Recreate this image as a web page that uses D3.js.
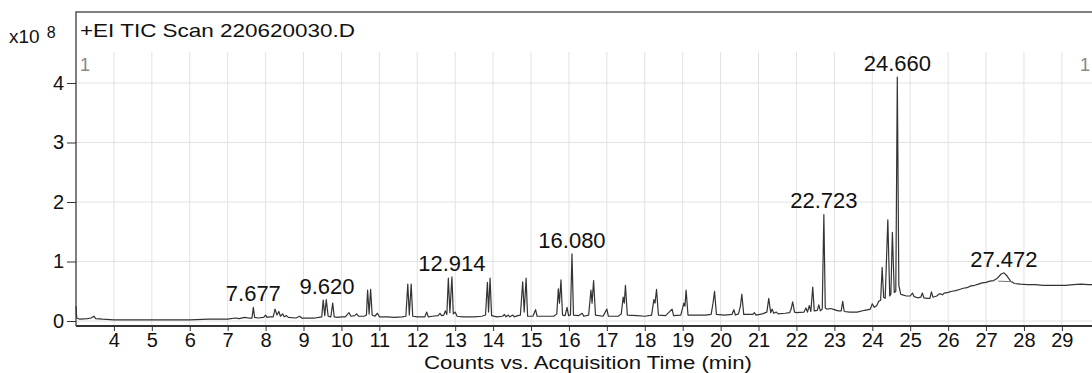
<!DOCTYPE html>
<html>
<head>
<meta charset="utf-8">
<script src="https://cdn.jsdelivr.net/npm/d3@7"></script>
<style>
  body { margin: 0; background: #fff; }
  svg { display: block; font-family: "Liberation Sans", Arial, sans-serif; }
</style>
</head>
<body>
<svg id="chart" width="1092" height="373"></svg>
<script>
// TIC trace: [time (min), counts x10^8]
const trace = [
  [3.0, 0.25], [3.02, 0.05], [3.1, 0.03], [3.3, 0.04], [3.4, 0.05], [3.47, 0.08], [3.52, 0.04],
  [3.7, 0.03], [4.0, 0.02], [4.5, 0.02], [5.0, 0.02], [5.5, 0.02], [6.0, 0.02], [6.5, 0.03],
  [7.0, 0.03], [7.2, 0.05], [7.3, 0.04], [7.45, 0.06], [7.55, 0.05], [7.64, 0.05], [7.677, 0.23],
  [7.71, 0.06], [7.8, 0.05], [7.95, 0.06], [8.0, 0.1], [8.04, 0.06], [8.1, 0.07], [8.2, 0.07],
  [8.25, 0.2], [8.3, 0.1], [8.35, 0.16], [8.39, 0.08], [8.45, 0.12], [8.49, 0.07], [8.55, 0.09],
  [8.6, 0.06], [8.8, 0.05], [8.9, 0.08], [8.95, 0.05], [9.1, 0.05], [9.3, 0.05], [9.4, 0.06],
  [9.48, 0.07], [9.52, 0.35], [9.56, 0.09], [9.6, 0.36], [9.65, 0.08], [9.72, 0.07], [9.77, 0.3],
  [9.81, 0.07], [9.9, 0.06], [10.0, 0.07], [10.1, 0.07], [10.2, 0.14], [10.25, 0.08], [10.35, 0.09],
  [10.4, 0.12], [10.45, 0.08], [10.6, 0.08], [10.66, 0.1], [10.69, 0.52], [10.73, 0.12], [10.77, 0.53],
  [10.81, 0.1], [10.88, 0.08], [10.95, 0.13], [11.0, 0.07], [11.2, 0.07], [11.4, 0.06], [11.6, 0.07],
  [11.7, 0.08], [11.75, 0.62], [11.79, 0.1], [11.84, 0.62], [11.88, 0.08], [12.0, 0.07], [12.2, 0.07],
  [12.25, 0.15], [12.29, 0.07], [12.4, 0.08], [12.55, 0.09], [12.6, 0.13], [12.64, 0.09], [12.7, 0.1],
  [12.74, 0.17], [12.78, 0.11], [12.82, 0.72], [12.86, 0.14], [12.914, 0.74], [12.95, 0.12], [13.0, 0.15],
  [13.05, 0.08], [13.2, 0.07], [13.5, 0.07], [13.7, 0.08], [13.8, 0.1], [13.85, 0.65], [13.88, 0.15],
  [13.92, 0.72], [13.96, 0.09], [14.1, 0.07], [14.25, 0.08], [14.3, 0.11], [14.34, 0.07], [14.4, 0.1],
  [14.44, 0.07], [14.52, 0.1], [14.56, 0.07], [14.65, 0.09], [14.72, 0.1], [14.78, 0.66], [14.82, 0.15],
  [14.87, 0.72], [14.91, 0.08], [15.05, 0.08], [15.12, 0.19], [15.16, 0.08], [15.4, 0.08], [15.6, 0.08],
  [15.68, 0.12], [15.72, 0.54], [15.75, 0.3], [15.79, 0.69], [15.83, 0.1], [15.9, 0.09], [15.95, 0.23],
  [15.99, 0.09], [16.04, 0.1], [16.08, 1.13], [16.12, 0.1], [16.25, 0.09], [16.35, 0.13], [16.39, 0.08],
  [16.52, 0.1], [16.58, 0.52], [16.61, 0.3], [16.65, 0.68], [16.7, 0.1], [16.9, 0.08], [17.0, 0.2],
  [17.04, 0.08], [17.3, 0.08], [17.38, 0.12], [17.43, 0.4], [17.46, 0.3], [17.49, 0.6], [17.54, 0.1],
  [17.8, 0.09], [18.0, 0.08], [18.18, 0.1], [18.24, 0.36], [18.27, 0.3], [18.31, 0.53], [18.36, 0.1],
  [18.55, 0.09], [18.72, 0.2], [18.76, 0.09], [18.95, 0.1], [19.03, 0.3], [19.06, 0.25], [19.09, 0.52],
  [19.14, 0.1], [19.4, 0.1], [19.6, 0.1], [19.75, 0.11], [19.8, 0.3], [19.84, 0.5], [19.89, 0.11],
  [20.1, 0.1], [20.3, 0.11], [20.35, 0.19], [20.39, 0.1], [20.47, 0.12], [20.52, 0.24], [20.56, 0.45],
  [20.61, 0.11], [20.85, 0.11], [20.89, 0.14], [20.93, 0.1], [21.1, 0.12], [21.22, 0.15], [21.27, 0.38],
  [21.32, 0.14], [21.36, 0.2], [21.4, 0.13], [21.47, 0.15], [21.52, 0.12], [21.7, 0.13], [21.82, 0.14],
  [21.86, 0.2], [21.9, 0.32], [21.95, 0.15], [22.0, 0.14], [22.2, 0.15], [22.25, 0.22], [22.29, 0.15],
  [22.34, 0.26], [22.38, 0.16], [22.43, 0.57], [22.47, 0.17], [22.55, 0.18], [22.59, 0.27], [22.63, 0.17],
  [22.68, 0.2], [22.723, 1.79], [22.76, 0.22], [22.8, 0.2], [22.9, 0.21], [23.0, 0.19], [23.1, 0.17],
  [23.18, 0.17], [23.22, 0.33], [23.26, 0.16], [23.4, 0.15], [23.6, 0.15], [23.8, 0.18], [23.95, 0.2],
  [24.0, 0.29], [24.05, 0.23], [24.12, 0.26], [24.17, 0.33], [24.22, 0.35], [24.26, 0.9], [24.3, 0.4],
  [24.34, 0.38], [24.41, 1.7], [24.46, 0.42], [24.49, 0.45], [24.53, 1.49], [24.58, 0.48], [24.62, 0.5],
  [24.66, 4.1], [24.7, 0.6], [24.75, 0.45], [24.8, 0.44], [24.9, 0.42], [25.0, 0.42], [25.06, 0.47],
  [25.1, 0.41], [25.2, 0.39], [25.28, 0.4], [25.32, 0.47], [25.36, 0.39], [25.45, 0.38], [25.52, 0.38],
  [25.56, 0.49], [25.6, 0.4], [25.7, 0.42], [25.78, 0.46], [25.85, 0.44], [25.9, 0.47], [26.0, 0.48],
  [26.1, 0.5], [26.2, 0.51], [26.3, 0.53], [26.4, 0.55], [26.5, 0.56], [26.6, 0.59], [26.7, 0.6],
  [26.8, 0.62], [26.9, 0.64], [27.0, 0.65], [27.1, 0.67], [27.2, 0.68], [27.3, 0.72], [27.4, 0.79],
  [27.472, 0.81], [27.55, 0.76], [27.65, 0.67], [27.75, 0.63], [27.9, 0.62], [28.1, 0.61], [28.3, 0.61],
  [28.5, 0.6], [28.7, 0.6], [28.9, 0.6], [29.1, 0.6], [29.3, 0.61], [29.5, 0.62], [29.7, 0.61], [29.9, 0.61]
];

// labelled peaks: retention time and apex height
const peakTimes = [7.677, 9.620, 12.914, 16.080, 22.723, 24.660, 27.472];
const peakHeights = [0.23, 0.36, 0.74, 1.13, 1.79, 4.10, 0.81];

// integration baseline drawn under the 27.472 hump
const integrationBase = [[27.32, 0.67], [27.7, 0.66]];

const xTicks = d3.range(4, 30);
const yTicks = [0, 1, 2, 3, 4];

const title = "+EI TIC Scan 220620030.D";
const xTitle = "Counts vs. Acquisition Time (min)";

const svg = d3.select("#chart");
const plotLeft = 76, plotTop = 12, plotRight = 1096, axisY = 326, gridTop = 52;

const x = d3.scaleLinear().domain([3, 29.9]).range([plotLeft, plotRight]);
const y = d3.scaleLinear().domain([0, 4]).range([321, 83]);

// grid
svg.append("g")
  .selectAll("line")
  .data(xTicks)
  .join("line")
  .attr("x1", d => x(d)).attr("x2", d => x(d))
  .attr("y1", gridTop).attr("y2", axisY)
  .attr("stroke", "#e2e2e2").attr("stroke-width", 1);

svg.append("g")
  .selectAll("line")
  .data(yTicks)
  .join("line")
  .attr("x1", plotLeft).attr("x2", plotRight)
  .attr("y1", d => y(d)).attr("y2", d => y(d))
  .attr("stroke", "#e2e2e2").attr("stroke-width", 1);

// frame
svg.append("path")
  .attr("d", `M${plotRight},${plotTop}H${plotLeft}V${axisY}`)
  .attr("fill", "none").attr("stroke", "#555").attr("stroke-width", 1.5);
svg.append("line")
  .attr("x1", plotLeft).attr("x2", plotRight)
  .attr("y1", axisY).attr("y2", axisY)
  .attr("stroke", "#333").attr("stroke-width", 2);

// axes
const xAxis = svg.append("g")
  .attr("transform", `translate(0,${axisY})`)
  .call(d3.axisBottom(x).tickValues(xTicks).tickSize(5).tickPadding(2).tickFormat(d3.format("d")));
xAxis.select(".domain").remove();
xAxis.selectAll("line").attr("stroke", "#333");
xAxis.selectAll("text")
  .attr("font-size", 20).attr("fill", "#111")
  .attr("font-family", "Liberation Sans, Arial, sans-serif");

const yAxis = svg.append("g")
  .attr("transform", `translate(${plotLeft},0)`)
  .call(d3.axisLeft(y).tickValues(yTicks).tickSize(9).tickPadding(3).tickFormat(d3.format("d")));
yAxis.select(".domain").remove();
yAxis.selectAll("line").attr("stroke", "#333");
yAxis.selectAll("text")
  .attr("font-size", 20).attr("fill", "#111")
  .attr("font-family", "Liberation Sans, Arial, sans-serif");

// trace
const line = d3.line().x(d => x(d[0])).y(d => y(d[1]));
svg.append("path")
  .datum(trace)
  .attr("fill", "none")
  .attr("stroke", "#333")
  .attr("stroke-width", 1.2)
  .attr("stroke-linejoin", "round")
  .attr("d", line);

svg.append("path")
  .datum(integrationBase)
  .attr("fill", "none")
  .attr("stroke", "#777")
  .attr("stroke-width", 1)
  .attr("d", line);

// peak labels
svg.append("g")
  .selectAll("text")
  .data(peakTimes)
  .join("text")
  .attr("x", d => x(d))
  .attr("y", (d, i) => y(peakHeights[i]) - 6)
  .attr("text-anchor", "middle")
  .attr("font-size", 22)
  .attr("fill", "#111")
  .text(d => d.toFixed(3));

// titles
svg.append("text")
  .attr("x", 80).attr("y", 37)
  .attr("font-size", 18.5).attr("fill", "#111")
  .attr("textLength", 275).attr("lengthAdjust", "spacingAndGlyphs")
  .text(title);

const mult = svg.append("text").attr("x", 9).attr("y", 43).attr("font-size", 19).attr("fill", "#111");
mult.append("tspan").text("x10");
mult.append("tspan").attr("dx", 7).attr("dy", -5).attr("font-size", 16).text("8");

svg.append("text")
  .attr("x", 80).attr("y", 71)
  .attr("font-size", 18).attr("fill", "#888")
  .text("1");
svg.append("text")
  .attr("x", 1080).attr("y", 71)
  .attr("font-size", 18).attr("fill", "#888")
  .text("1");

svg.append("text")
  .attr("x", 588).attr("y", 369)
  .attr("text-anchor", "middle")
  .attr("font-size", 18).attr("fill", "#111")
  .attr("textLength", 328).attr("lengthAdjust", "spacingAndGlyphs")
  .text(xTitle);
</script>
</body>
</html>
